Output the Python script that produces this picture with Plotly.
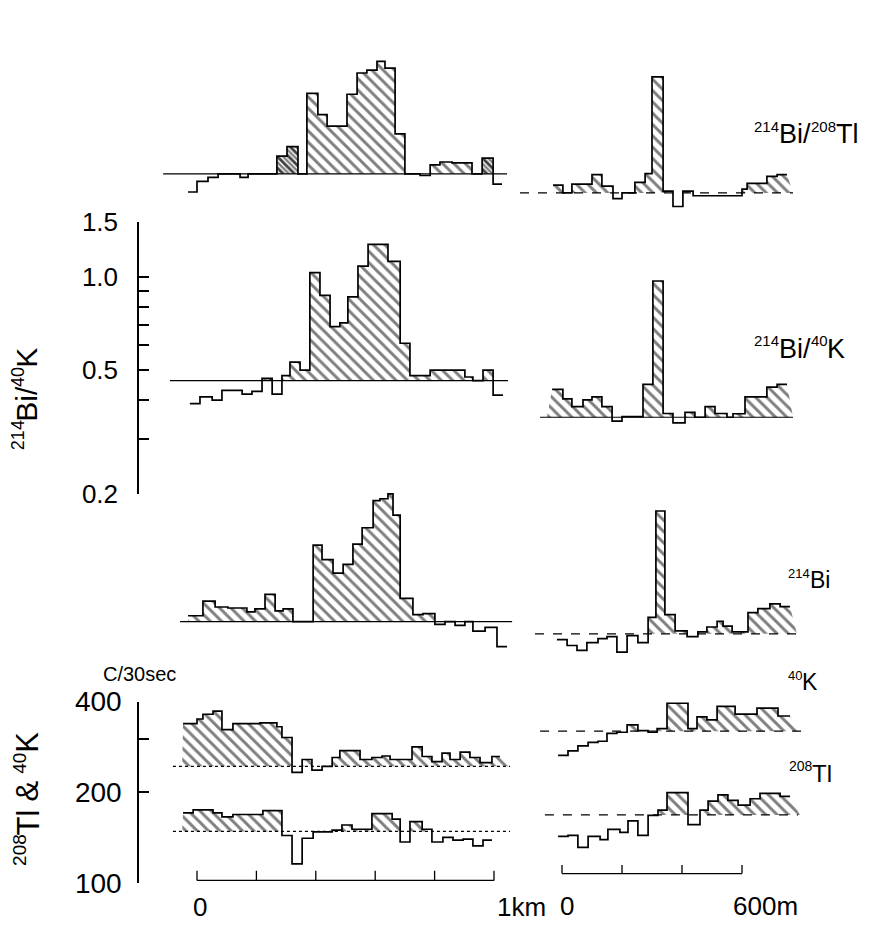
import math
import plotly.graph_objects as go

# ---------------- DATA ----------------
# Left line: distance in km (step edges); right line: distance in m (step edges)
# 214Bi/208Tl (relative to mean level = 1)
bitl_L_x = [-0.030, 0.000, 0.037, 0.071, 0.145, 0.172, 0.269, 0.303, 0.340, 0.370, 0.407, 0.438, 0.505,
            0.539, 0.572, 0.606, 0.633, 0.667, 0.700, 0.751, 0.785, 0.818, 0.859, 0.926, 0.960, 0.997, 1.027]
bitl_L_v = [0.874, 0.946, 0.974, 1.0, 0.974, 1.0, 1.140, 1.225, 1.0, 1.819, 1.553, 1.425, 1.806,
            2.115, 2.161, 2.305, 2.192, 1.345, 1.0, 0.988, 1.069, 1.092, 1.085, 1.0, 1.124, 0.926]
bitl_R_x = [-30, 3, 33, 100, 133, 170, 200, 243, 277, 300, 337, 370, 403, 437, 600, 617, 683, 717, 750]
bitl_R_v = [1.059, 1.0, 1.067, 1.146, 1.052, 0.958, 1.0, 1.082, 1.154, 2.367, 1.014, 0.904, 1.014,
            0.979, 1.029, 1.074, 1.130, 1.146]

# 214Bi/40K ratio
bik_L_x = [-0.024, 0.010, 0.051, 0.084, 0.118, 0.152, 0.185, 0.219, 0.253, 0.286, 0.313, 0.347, 0.380, 0.414,
           0.448, 0.481, 0.508, 0.542, 0.576, 0.609, 0.643, 0.684, 0.717, 0.785, 0.902, 0.929, 0.963, 0.997, 1.030]
bik_L_v = [0.39, 0.41, 0.40, 0.43, 0.43, 0.418, 0.427, 0.47, 0.418, 0.48, 0.53, 0.50, 1.03, 0.87,
           0.69, 0.71, 0.86, 1.08, 1.27, 1.27, 1.12, 0.61, 0.48, 0.50, 0.475, 0.462, 0.50, 0.415]
bik_R_x = [-33, 3, 33, 70, 100, 133, 167, 200, 270, 303, 337, 370, 410, 443, 477, 510, 550, 570, 610, 683, 717, 750]
bik_R_v = [0.566, 0.527, 0.498, 0.523, 0.535, 0.498, 0.447, 0.462, 0.587, 1.265, 0.473, 0.441, 0.477,
           0.46, 0.498, 0.473, 0.46, 0.472, 0.535, 0.575, 0.587]

# 214Bi (relative to mean level = 1)
bi_L_x = [-0.030, 0.020, 0.061, 0.104, 0.168, 0.195, 0.229, 0.263, 0.290, 0.323, 0.391, 0.421, 0.458, 0.492,
          0.525, 0.556, 0.593, 0.616, 0.643, 0.660, 0.684, 0.727, 0.761, 0.801, 0.835, 0.869, 0.902, 0.929,
          0.970, 1.010, 1.044]
bi_L_v = [1.044, 1.163, 1.114, 1.106, 1.074, 1.098, 1.223, 1.082, 1.098, 1.0, 1.763, 1.584, 1.432, 1.528,
          1.776, 2.007, 2.454, 2.489, 2.58, 2.203, 1.188, 1.052, 1.06, 0.979, 1.0, 0.972, 1.0, 0.931, 0.958, 0.830]
bi_R_x = [-17, 17, 50, 83, 120, 150, 183, 217, 253, 287, 313, 343, 377, 417, 453, 483, 517, 537, 567,
          620, 653, 693, 727, 760]
bi_R_v = [0.958, 0.917, 0.885, 0.937, 0.965, 0.979, 0.873, 0.986, 0.937, 1.130, 2.489, 1.154, 1.022,
          0.979, 1.015, 1.052, 1.098, 1.059, 1.015, 1.171, 1.205, 1.249, 1.223]

# 40K, c/30sec
k_L_x = [-0.047, 0.000, 0.020, 0.054, 0.084, 0.121, 0.212, 0.269, 0.286, 0.320, 0.354, 0.387, 0.421, 0.455,
         0.481, 0.549, 0.589, 0.623, 0.650, 0.724, 0.758, 0.791, 0.825, 0.852, 0.886, 0.919, 0.953, 0.993, 1.020]
k_L_v = [338, 350, 363, 372, 323, 338, 340, 330, 304, 233, 257, 237, 244, 261,
         275, 257, 261, 264, 257, 283, 263, 253, 270, 257, 272, 261, 251, 263]
k_R_x = [-13, 20, 53, 87, 120, 150, 183, 217, 253, 287, 317, 350, 420, 450, 483, 517, 577, 650, 720, 760]
k_R_v = [203, 210, 218, 224, 226, 240, 242, 256, 245, 242, 249, 302, 249, 272, 266, 295, 278, 291, 274]

# 208Tl, c/30sec
tl_L_x = [-0.047, -0.013, 0.054, 0.084, 0.121, 0.222, 0.286, 0.320, 0.354, 0.391, 0.455, 0.488, 0.522,
          0.589, 0.657, 0.684, 0.717, 0.758, 0.791, 0.828, 0.862, 0.896, 0.929, 0.963, 0.993]
tl_L_v = [171, 175, 171, 166, 169, 174, 144, 116, 141, 148, 150, 156, 151, 170, 163, 137, 160, 151,
          137, 142, 139, 140, 133, 139]
tl_R_x = [-13, 20, 53, 87, 127, 153, 193, 220, 253, 287, 320, 350, 420, 460, 487, 520, 553, 587, 627,
          660, 727, 760]
tl_R_v = [126, 127, 116, 126, 123, 133, 130, 142, 127, 148, 154, 176, 138, 154, 165, 173, 166, 160,
          168, 175, 171]

# mean (reference) levels and their drawn extent
base_vals = {"bitl_L": 1.0, "bitl_R": 1.0, "bik_L": 0.462, "bik_R": 0.46, "bi_L": 1.0, "bi_R": 1.0,
             "k_L": 244, "k_R": 244, "tl_L": 148.5, "tl_R": 148.5}
base_ext = {"bitl_L": [-0.114, 1.044], "bitl_R": [-140, 770], "bik_L": [-0.091, 1.047], "bik_R": [-73, 770],
            "bi_L": [-0.057, 1.061], "bi_R": [-90, 783], "k_L": [-0.081, 1.054], "k_R": [-73, 800],
            "tl_L": [-0.081, 1.054], "tl_R": [-57, 787]}
# intervals drawn with dense (dark) hatching
dense_bitl_L = [[0.269, 0.340], [0.960, 0.997]]
dense_bik_L = [[0.219, 0.253]]

# axis ticks
ratio_ticks = [0.2, 0.5, 1.0, 1.5]
ratio_labels = ["0.2", "0.5", "1.0", "1.5"]
ratio_minor = [0.3, 0.4, 0.6, 0.7, 0.8, 0.9]
count_ticks = [100, 200, 400]
count_labels = ["100", "200", "400"]
count_minor = [300]
scale_L_ticks = [0, 0.2, 0.4, 0.6, 0.8, 1.0]
scale_R_ticks = [0, 200, 400, 600]

# isotope labels: (text, is_superscript)
lab_bitl = [("214", True), ("Bi/", False), ("208", True), ("Tl", False)]
lab_bik = [("214", True), ("Bi/", False), ("40", True), ("K", False)]
lab_bi = [("214", True), ("Bi", False)]
lab_k = [("40", True), ("K", False)]
lab_tl = [("208", True), ("Tl", False)]
lab_tlk = [("208", True), ("Tl", False), (" ", False), ("&", False), (" ", False), ("40", True), ("K", False)]

# ---------------- LAYOUT HELPERS ----------------
W, H = 872, 937
FONT = "Liberation Sans, Arial, sans-serif"


def py(p):
    return 1 - p / H


def hidden_yaxis(base, row, ppd, anchor):
    lb = math.log10(base)
    return dict(type="log", domain=[0, 1], range=[lb - (H - row) / ppd, lb + row / ppd],
                visible=False, anchor=anchor, showgrid=False, zeroline=False)


fig = go.Figure()

HATCH = dict(shape="\\", size=8, solidity=0.36, fgcolor="black",
             bgcolor="rgba(0,0,0,0)", fillmode="overlay")
DENSE = dict(shape="\\", size=4, solidity=0.6, fgcolor="black",
             bgcolor="rgba(0,0,0,0)", fillmode="overlay")


def add_fill(xs, ve, base, xa, ya, hx, pattern):
    fig.add_trace(go.Scatter(x=hx, y=[base, base], mode="lines", xaxis=xa, yaxis=ya,
                             line=dict(width=0), hoverinfo="skip"))
    fig.add_trace(go.Scatter(x=list(xs), y=[max(v, base) for v in ve], mode="lines", xaxis=xa, yaxis=ya,
                             line=dict(width=0, shape="hv"), fill="tonexty",
                             fillcolor="rgba(0,0,0,0)", fillpattern=pattern, hoverinfo="skip"))


def add_profile(xs, vs, key, xa, ya, dash="solid", hatch_ext=None, dense=None):
    base = base_vals[key]
    ve = list(vs) + [vs[-1]]
    fig.add_trace(go.Scatter(x=base_ext[key], y=[base, base], mode="lines", xaxis=xa, yaxis=ya,
                             line=dict(color="black", width=1.2, dash=dash), hoverinfo="skip"))
    hx = hatch_ext if hatch_ext else [xs[0], xs[-1]]
    add_fill(xs, ve, base, xa, ya, hx, HATCH)
    for a, b in (dense or []):
        idx = [i for i in range(len(vs)) if xs[i] >= a - 1e-9 and xs[i + 1] <= b + 1e-9]
        sx = [xs[i] for i in idx] + [xs[idx[-1] + 1]]
        sv = [vs[i] for i in idx] + [vs[idx[-1]]]
        add_fill(sx, sv, base, xa, ya, [sx[0], sx[-1]], DENSE)
    fig.add_trace(go.Scatter(x=list(xs), y=ve, mode="lines", xaxis=xa, yaxis=ya,
                             line=dict(color="black", width=1.7, shape="hv"), hoverinfo="skip"))


add_profile(bitl_L_x, bitl_L_v, "bitl_L", "x", "y3", dense=dense_bitl_L)
add_profile(bitl_R_x, bitl_R_v, "bitl_R", "x2", "y4", dash="dash", hatch_ext=[bitl_R_x[0], 770])
add_profile(bik_L_x, bik_L_v, "bik_L", "x", "y", dense=dense_bik_L)
add_profile(bik_R_x, bik_R_v, "bik_R", "x2", "y5", hatch_ext=[-50, 770])
add_profile(bi_L_x, bi_L_v, "bi_L", "x", "y6")
add_profile(bi_R_x, bi_R_v, "bi_R", "x2", "y7", dash="dash", hatch_ext=[bi_R_x[0], 783])
add_profile(k_L_x, k_L_v, "k_L", "x", "y2", dash="dot", hatch_ext=[-0.05, 1.054])
add_profile(tl_L_x, tl_L_v, "tl_L", "x", "y2", dash="dot", hatch_ext=[-0.05, tl_L_x[-1]])
add_profile(k_R_x, k_R_v, "k_R", "x2", "y8", dash="dash", hatch_ext=[k_R_x[0], 793])
add_profile(tl_R_x, tl_R_v, "tl_R", "x2", "y9", dash="dash", hatch_ext=[tl_R_x[0], 793])

# ---------------- AXES ----------------
axis_common = dict(showgrid=False, zeroline=False)
minor_style = dict(ticks="inside", ticklen=10, tickwidth=1.5, tickcolor="black", tickmode="array", showgrid=False)
layout = dict(
    width=W, height=H, autosize=False, margin=dict(l=0, r=0, t=0, b=0, pad=0),
    paper_bgcolor="white", plot_bgcolor="rgba(0,0,0,0)", showlegend=False,
    font=dict(family=FONT, color="black"),
    xaxis=dict(domain=[0, 1], range=[-197 / 297, (W - 197) / 297], visible=False, anchor="y3", **axis_common),
    xaxis2=dict(domain=[0, 1], range=[-562 / 0.3, (W - 562) / 0.3], visible=False, anchor="y4", **axis_common),
    yaxis=dict(type="log", domain=[py(495), py(214)], range=[math.log10(0.2), math.log10(1.5)],
               anchor="free", position=138 / W, showline=True, linecolor="black", linewidth=1.5,
               ticks="inside", ticklen=10, tickwidth=1.5, tickcolor="black",
               tickmode="array", tickvals=ratio_ticks, ticktext=ratio_labels,
               minor=dict(tickvals=ratio_minor, **minor_style),
               tickfont=dict(size=26, family=FONT, color="black"), ticklabelstandoff=14, **axis_common),
    yaxis2=dict(type="log", domain=[py(898), py(710)], range=[2, math.log10(400)],
                anchor="free", position=138 / W, showline=True, linecolor="black", linewidth=1.5,
                ticks="inside", ticklen=10, tickwidth=1.5, tickcolor="black",
                tickmode="array", tickvals=count_ticks, ticktext=count_labels,
                minor=dict(tickvals=count_minor, **minor_style),
                tickfont=dict(size=28, family=FONT, color="black"), ticklabelstandoff=10, **axis_common),
    yaxis3=hidden_yaxis(base_vals["bitl_L"], 164.3, 320.7, "x"),
    yaxis4=hidden_yaxis(base_vals["bitl_R"], 184, 320.7, "x2"),
    yaxis5=hidden_yaxis(base_vals["bik_R"], 416, 320.7, "x2"),
    yaxis6=hidden_yaxis(base_vals["bi_L"], 627.3, 320.7, "x"),
    yaxis7=hidden_yaxis(base_vals["bi_R"], 640, 320.7, "x2"),
    yaxis8=hidden_yaxis(base_vals["k_R"], 740.7, 312, "x2"),
    yaxis9=hidden_yaxis(base_vals["tl_R"], 827.3, 312, "x2"),
)
fig.update_layout(**layout)

# ---------------- DISTANCE SCALE BARS ----------------
shapes = []
shapes.append(dict(type="line", xref="x", yref="paper", x0=scale_L_ticks[0], x1=scale_L_ticks[-1],
                   y0=py(895), y1=py(895), line=dict(color="black", width=1.3)))
for t in scale_L_ticks:
    shapes.append(dict(type="line", xref="x", yref="paper", x0=t, x1=t, y0=py(895), y1=py(885),
                       line=dict(color="black", width=1.3)))
shapes.append(dict(type="line", xref="x2", yref="paper", x0=scale_R_ticks[0], x1=scale_R_ticks[-1],
                   y0=py(888), y1=py(888), line=dict(color="black", width=1.3)))
for t in scale_R_ticks:
    shapes.append(dict(type="line", xref="x2", yref="paper", x0=t, x1=t, y0=py(888), y1=py(879),
                       line=dict(color="black", width=1.3)))
fig.update_layout(shapes=shapes)

# ---------------- TEXT ----------------
ann = []
AW = dict.fromkeys("0123456789", 0.556)
AW.update({"B": 0.667, "i": 0.222, "/": 0.278, "T": 0.611, "l": 0.222, "K": 0.667, " ": 0.278, "&": 0.667})


def text_w(s, size):
    return sum(AW.get(c, 0.6) for c in s) * size


def label(text, x, y, size, xanchor="left", angle=0, xref="paper", xshift=0):
    ann.append(dict(text=text, x=x, y=py(y), xref=xref, yref="paper", xanchor=xanchor, yanchor="middle",
                    showarrow=False, textangle=angle, xshift=xshift, borderpad=0,
                    font=dict(size=size, family=FONT, color="black")))


def iso_label(parts, start, center, main, sup, vertical=False):
    """Lay out an isotope label piece by piece (superscripts as smaller, raised text)."""
    total = sum(text_w(t, sup if s else main) for t, s in parts)
    cur = start if not vertical else center[1] + total / 2
    for t, s in parts:
        size = sup if s else main
        w = text_w(t, size)
        off = -0.3 * main if s else 0
        if t.strip():
            txt = t.replace("&", "&amp;")
            if not vertical:
                label(txt, cur / W, center + off, size)
            else:
                label(txt, (center[0] + off) / W, cur - w / 2, size, xanchor="center", angle=-90)
        cur = cur + w if not vertical else cur - w


iso_label(lab_bitl, 753, 123, 27, 15)
iso_label(lab_bik, 753, 345, 27, 15)
iso_label(lab_bi, 787, 584, 23, 13)
iso_label(lab_k, 787, 690, 23, 13)
iso_label(lab_tl, 788, 784, 24, 14)
iso_label(lab_bik, None, (27, 397), 30, 18, vertical=True)
iso_label(lab_tlk, None, (28, 811), 31, 19, vertical=True)

label("C/30sec", 139 / W, 682, 20, xanchor="center")
label("0", scale_L_ticks[0], 923, 26, xanchor="center", xref="x", xshift=3)
label("1km", scale_L_ticks[-1], 923, 26, xanchor="left", xref="x", xshift=2)
label("0", scale_R_ticks[0], 921, 26, xanchor="center", xref="x2", xshift=5)
label("600m", scale_R_ticks[-1], 921, 26, xanchor="left", xref="x2", xshift=-10)
fig.update_layout(annotations=ann)

fig.write_html("out.html")
